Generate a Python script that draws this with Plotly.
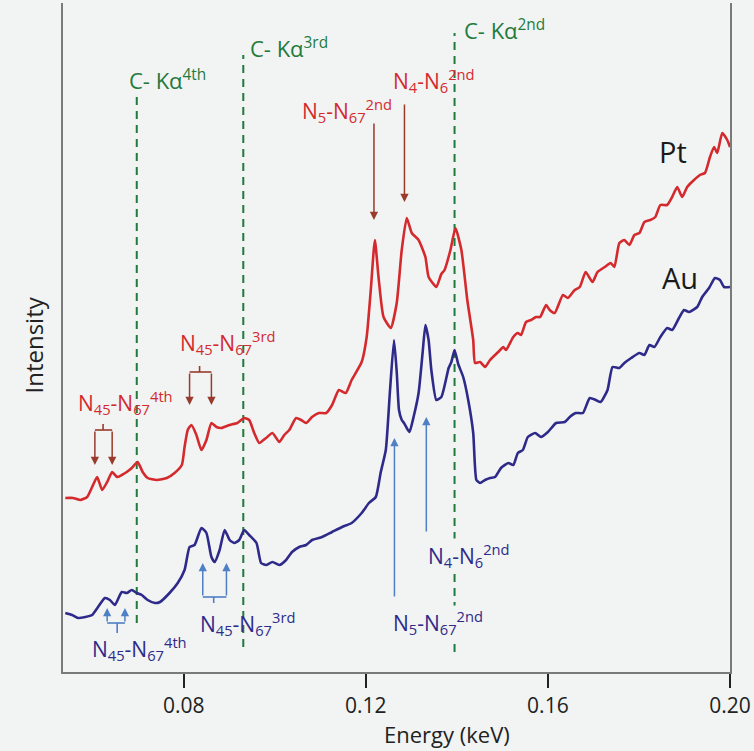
import plotly.graph_objects as go

# Pt spectrum
energy_pt = [0.0540, 0.0557, 0.0573, 0.0588, 0.0599, 0.0610, 0.0621, 0.0632, 0.0643, 0.0654,
             0.0664, 0.0675, 0.0686, 0.0699, 0.0710, 0.0721, 0.0741, 0.0763, 0.0780, 0.0796,
             0.0802, 0.0809, 0.0817, 0.0828, 0.0839, 0.0850, 0.0861, 0.0872, 0.0883, 0.0901,
             0.0918, 0.0933, 0.0944, 0.0955, 0.0966, 0.0981, 0.0995, 0.1010, 0.1021, 0.1032,
             0.1047, 0.1058, 0.1069, 0.1082, 0.1097, 0.1113, 0.1126, 0.1141, 0.1156, 0.1169,
             0.1191, 0.1202, 0.1211, 0.1220, 0.1228, 0.1239, 0.1255, 0.1268, 0.1279, 0.1290,
             0.1301, 0.1316, 0.1331, 0.1338, 0.1355, 0.1366, 0.1373, 0.1386, 0.1397, 0.1410,
             0.1423, 0.1436, 0.1440, 0.1451, 0.1462, 0.1473, 0.1491, 0.1502, 0.1508, 0.1524,
             0.1534, 0.1541, 0.1552, 0.1563, 0.1574, 0.1583, 0.1596, 0.1604, 0.1615, 0.1633,
             0.1644, 0.1659, 0.1670, 0.1683, 0.1698, 0.1709, 0.1725, 0.1738, 0.1746, 0.1757,
             0.1768, 0.1779, 0.1790, 0.1801, 0.1812, 0.1825, 0.1836, 0.1847, 0.1862, 0.1873,
             0.1884, 0.1895, 0.1906, 0.1921, 0.1934, 0.1945, 0.1956, 0.1965, 0.1972, 0.1983,
             0.1994, 0.2000]
intensity_pt = [174, 174, 172, 175, 185, 195, 182, 190, 200, 195,
                197, 200, 204, 210, 200, 194, 192, 194, 199, 207,
                225, 242, 247, 237, 222, 232, 249, 245, 244, 247,
                249, 254, 252, 239, 229, 234, 239, 230, 237, 242,
                254, 252, 249, 255, 259, 259, 267, 282, 279, 292,
                310, 335, 382, 432, 395, 355, 344, 369, 422, 454,
                439, 432, 415, 395, 385, 398, 402, 422, 444, 422,
                372, 332, 309, 310, 305, 312, 320, 325, 322, 335,
                339, 337, 350, 352, 355, 355, 367, 362, 359, 377,
                374, 382, 385, 400, 390, 400, 405, 409, 405, 429,
                432, 427, 437, 439, 450, 452, 455, 467, 467, 475,
                485, 475, 485, 492, 497, 499, 515, 525, 519, 539,
                532, 525]

# Au spectrum
energy_au = [0.0540, 0.0555, 0.0568, 0.0584, 0.0599, 0.0612, 0.0627, 0.0638, 0.0649, 0.0664,
             0.0675, 0.0686, 0.0697, 0.0708, 0.0721, 0.0737, 0.0748, 0.0769, 0.0787, 0.0802,
             0.0813, 0.0824, 0.0839, 0.0850, 0.0861, 0.0868, 0.0879, 0.0890, 0.0901, 0.0911,
             0.0922, 0.0933, 0.0944, 0.0960, 0.0970, 0.0981, 0.0995, 0.1010, 0.1025, 0.1038,
             0.1054, 0.1069, 0.1082, 0.1104, 0.1126, 0.1148, 0.1169, 0.1191, 0.1207, 0.1222,
             0.1233, 0.1244, 0.1253, 0.1262, 0.1268, 0.1273, 0.1279, 0.1284, 0.1290, 0.1296,
             0.1305, 0.1316, 0.1325, 0.1331, 0.1338, 0.1344, 0.1355, 0.1366, 0.1375, 0.1382,
             0.1388, 0.1395, 0.1403, 0.1414, 0.1425, 0.1436, 0.1443, 0.1451, 0.1462, 0.1473,
             0.1484, 0.1497, 0.1513, 0.1524, 0.1534, 0.1545, 0.1556, 0.1572, 0.1585, 0.1600,
             0.1618, 0.1637, 0.1648, 0.1661, 0.1677, 0.1692, 0.1705, 0.1716, 0.1731, 0.1742,
             0.1757, 0.1768, 0.1783, 0.1801, 0.1812, 0.1823, 0.1834, 0.1847, 0.1862, 0.1873,
             0.1888, 0.1899, 0.1910, 0.1928, 0.1939, 0.1954, 0.1967, 0.1978, 0.1987, 0.2000]
intensity_au = [59, 57, 54, 55, 57, 65, 74, 72, 67, 80,
                79, 82, 79, 77, 72, 69, 70, 79, 89, 102,
                125, 127, 144, 139, 115, 110, 122, 142, 132, 129,
                132, 142, 137, 129, 109, 107, 110, 107, 112, 120,
                125, 127, 132, 135, 140, 145, 149, 159, 169, 175,
                200, 222, 280, 332, 300, 262, 252, 249, 244, 240,
                255, 279, 320, 347, 332, 302, 272, 275, 290, 304,
                310, 322, 308, 295, 272, 239, 192, 189, 192, 194,
                195, 204, 209, 207, 219, 222, 235, 239, 235, 240,
                249, 250, 255, 259, 259, 274, 272, 270, 282, 305,
                304, 309, 314, 319, 317, 327, 325, 335, 344, 342,
                354, 362, 360, 365, 375, 384, 394, 392, 385, 385]

# Carbon K-alpha higher-order positions (keV) and their labels
cka_energy = [0.0697, 0.0931, 0.1395]
cka_labels = ["C- Kα<sup>4th</sup>", "C- Kα<sup>3rd</sup>", "C- Kα<sup>2nd</sup>"]
x_ticks = [0.08, 0.12, 0.16, 0.20]
x_tick_labels = ["0.08", "0.12", "0.16", "0.20"]

RED = "#d42a2e"
RED_ARROW = "#9a3a2c"
NAVY = "#2f2a8a"
BLUE_ARROW = "#4f7fc4"
GREEN = "#1f7a3c"
BG = "#f1f4f3"
FONT = "Open Sans"

fig = go.Figure()
fig.add_trace(go.Scatter(x=energy_pt, y=intensity_pt, mode="lines",
                         line=dict(color=RED, width=2.6, shape="spline", smoothing=0.5),
                         name="Pt", showlegend=False))
fig.add_trace(go.Scatter(x=energy_au, y=intensity_au, mode="lines",
                         line=dict(color=NAVY, width=2.6, shape="spline", smoothing=0.5),
                         name="Au", showlegend=False))

shapes = []
annotations = []

# dashed C-Kα marker lines with their labels
cka_spans = [(49, 575), (25, 617), (20, 639)]
cka_label_pos = [(0.0675, 593), (0.0942, 625), (0.1412, 643)]
for e, (y0, y1), lab, (lx, ly) in zip(cka_energy, cka_spans, cka_labels, cka_label_pos):
    shapes.append(dict(type="line", x0=e, x1=e, y0=y0, y1=y1, xref="x", yref="y",
                       layer="below", line=dict(color=GREEN, width=2, dash="8px,6px")))
    annotations.append(dict(x=lx, y=ly, xref="x", yref="y", text=lab, showarrow=False,
                            xanchor="left", yanchor="middle",
                            font=dict(family=FONT, size=22, color=GREEN)))


def arrow(x, y_tail, y_tip, color):
    annotations.append(dict(x=x, y=y_tip, ax=x, ay=y_tail, xref="x", yref="y",
                            axref="x", ayref="y", text="", showarrow=True,
                            arrowhead=2, arrowsize=1.1, arrowwidth=1.5, arrowcolor=color))


def bracket(x_left, x_right, x_stem, y_bar, y_stem, y_tip, color):
    shapes.append(dict(type="line", x0=x_left, x1=x_right, y0=y_bar, y1=y_bar,
                       xref="x", yref="y", line=dict(color=color, width=1.6)))
    shapes.append(dict(type="line", x0=x_stem, x1=x_stem, y0=y_bar, y1=y_stem,
                       xref="x", yref="y", line=dict(color=color, width=1.6)))
    arrow(x_left, y_bar, y_tip, color)
    arrow(x_right, y_bar, y_tip, color)


def label(x, y, text, color, size=21, bg=None):
    annotations.append(dict(x=x, y=y, xref="x", yref="y", text=text, showarrow=False,
                            xanchor="left", yanchor="middle", bgcolor=bg, borderpad=0,
                            font=dict(family=FONT, size=size, color=color)))


# Pt transitions
arrow(0.1218, 550, 452, RED_ARROW)
arrow(0.1285, 569, 470, RED_ARROW)
bracket(0.0813, 0.0861, 0.0835, 300, 306, 267, RED_ARROW)
bracket(0.0605, 0.0643, 0.0623, 242, 248, 207, RED_ARROW)
label(0.1058, 562, "N<sub>5</sub>-N<sub>67</sub><sup>2nd</sup>", RED)
label(0.1257, 592, "N<sub>4</sub>-N<sub>6</sub><sup>2nd</sup>", RED)
label(0.0789, 330, "N<sub>45</sub>-N<sub>67</sub><sup>3rd</sup>", RED)
label(0.0566, 270, "N<sub>45</sub>-N<sub>67</sub><sup>4th</sup>", RED)

# Au transitions
arrow(0.1333, 139, 255, BLUE_ARROW)
arrow(0.1263, 74, 234, BLUE_ARROW)
bracket(0.0842, 0.0894, 0.0866, 75, 69, 109, BLUE_ARROW)
bracket(0.0632, 0.0671, 0.0654, 49, 39, 64, BLUE_ARROW)
label(0.1334, 117, "N<sub>4</sub>-N<sub>6</sub><sup>2nd</sup>", NAVY, bg=BG)
label(0.1257, 50, "N<sub>5</sub>-N<sub>67</sub><sup>2nd</sup>", NAVY, bg=BG)
label(0.0833, 49, "N<sub>45</sub>-N<sub>67</sub><sup>3rd</sup>", NAVY)
label(0.0597, 24, "N<sub>45</sub>-N<sub>67</sub><sup>4th</sup>", NAVY)

# element names
annotations.append(dict(x=0.1875, y=521, xref="x", yref="y", text="Pt", showarrow=False,
                        font=dict(family=FONT, size=29, color="#1a1a1a")))
annotations.append(dict(x=0.1891, y=395, xref="x", yref="y", text="Au", showarrow=False,
                        font=dict(family=FONT, size=29, color="#1a1a1a")))

# axis titles
annotations.append(dict(x=0.576, y=-0.093, xref="paper", yref="paper", text="Energy (keV)",
                        showarrow=False, xanchor="center", yanchor="middle",
                        font=dict(family=FONT, size=22, color="#222222")))
annotations.append(dict(x=-0.044, y=0.489, xref="paper", yref="paper", text="Intensity",
                        showarrow=False, textangle=-90, xanchor="center", yanchor="middle",
                        font=dict(family=FONT, size=24, color="#222222")))

fig.update_layout(
    width=754, height=751,
    margin=dict(l=63, r=21, t=3, b=79),
    paper_bgcolor=BG,
    plot_bgcolor=BG,
    shapes=shapes,
    annotations=annotations,
    showlegend=False,
    xaxis=dict(range=[0.0535, 0.2], tickvals=x_ticks, ticktext=x_tick_labels,
               showgrid=False, zeroline=False, showline=True, linecolor="#7a7a7a",
               linewidth=2, mirror=False, ticks="outside", ticklen=14, tickwidth=2,
               tickcolor="#222222", tickfont=dict(family=FONT, size=21, color="#222222")),
    yaxis=dict(range=[0, 669], showticklabels=False, ticks="", showgrid=False,
               zeroline=False, showline=True, linecolor="#7a7a7a", linewidth=2, mirror=True),
)

fig.write_html("out.html")
